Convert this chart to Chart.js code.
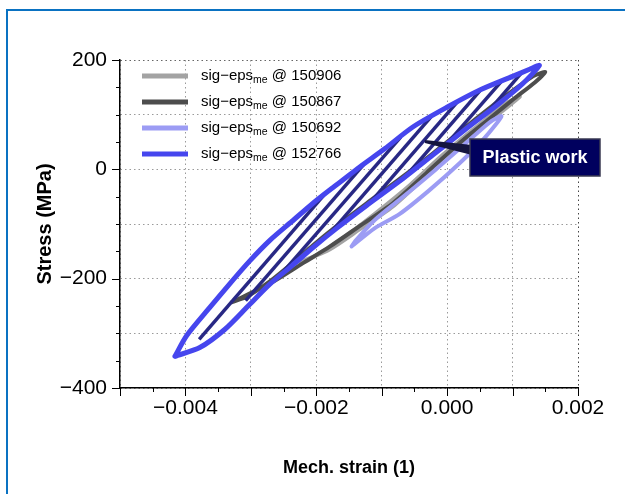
<!DOCTYPE html>
<html>
<head>
<meta charset="utf-8">
<script src="https://cdn.jsdelivr.net/npm/chart.js@4.4.1/dist/chart.umd.min.js"></script>
<style>
  html, body { margin: 0; padding: 0; background: #fff; }
</style>
</head>
<body>
<canvas id="myChart" width="625" height="494"></canvas>
<script>
var myChart = null;

// series (label ids in legend order)
const serieIds = ['150906', '150867', '150692', '152766'];
const serieColores = ['#a3a3a3', '#4d4d4d', '#9c9cf4', '#4646ee'];

// 150906 (light gray) loop: strain (1), stress (MPa)
const strain150906 = [-0.00225, -0.00179, -0.00134, -0.00083, -0.00031, 0.00019, 0.00065, 0.00111,
                      0.00088, 0.00042, -0.00007, -0.00057, -0.00108, -0.00156, -0.00202, -0.00225];
const stress150906 = [-170, -146, -110, -68, -11, 42, 88, 133,
                      119, 75, 26, -29, -79, -123, -159, -170];

// 150867 (dark gray) loop
const strain150867 = [-0.00329, -0.00271, -0.00221, -0.00179, -0.00134, -0.00083, -0.00031, 0.00019, 0.00065, 0.00103, 0.00134, 0.00150,
                      0.00131, 0.00080, 0.00030, -0.00022, -0.00073, -0.00123, -0.00169, -0.00205, -0.00237, -0.00271, -0.00305, -0.00329];
const stress150867 = [-243, -209, -172, -141, -104, -62, -6, 48, 93, 130, 159, 178,
                      170, 126, 79, 29, -18, -62, -104, -139, -172, -205, -232, -243];

// 150692 (light blue) loop
const strain150692 = [-0.00146, -0.00111, -0.00073, -0.00027, 0.00019, 0.00057, 0.00083,
                      0.00065, 0.00027, -0.00019, -0.00065, -0.00111, -0.00141, -0.00146];
const stress150692 = [-141, -108, -82, -38, 11, 57, 97,
                      86, 46, -2, -48, -93, -132, -141];

// 152766 (blue) loop
const strain152766 = [-0.00416, -0.00378, -0.00340, -0.00305, -0.00271, -0.00237, -0.00205, -0.00169, -0.00123, -0.00073, -0.00022, 0.00030, 0.00080, 0.00115, 0.00141,
                      0.00126, 0.00100, 0.00050, -0.00001, -0.00053, -0.00095, -0.00134, -0.00172, -0.00205, -0.00237, -0.00271, -0.00302, -0.00332, -0.00363, -0.00398, -0.00416];
const stress152766 = [-342, -326, -293, -251, -210, -176, -143, -108, -66, -22, 26, 75, 121, 156, 190,
                      183, 170, 145, 113, 77, 38, 4, -31, -62, -95, -130, -168, -209, -253, -304, -342];

// plastic work hatch lines (start / end of each stroke)
const hatchStrainIni = [-0.00379, -0.00308, -0.00251, -0.00179, -0.00120, -0.00065, -0.00001, 0.00060];
const hatchStressIni = [-311, -240, -188, -117, -64, -15, 46, 102];
const hatchStrainFin = [-0.00186, -0.00126, -0.00071, -0.00024, 0.00016, 0.00051, 0.00083, 0.00114];
const hatchStressFin = [-44, 11, 59, 97, 124, 145, 161, 177];

// axis labels
const etiquetasX = [-0.004, -0.002, 0.000, 0.002];
const etiquetasY = [200, 0, -200, -400];

// callout tip (strain, stress)
const flechaPlastic = [-0.00034, 51];

Chart.defaults.font.family = "'Liberation Sans', Arial, sans-serif";
Chart.defaults.color = '#000';

function puntos(xs, ys) {
	return xs.map(function (x, i) { return { x: x, y: ys[i] }; });
}

function lazo(idx, xs, ys, ancho, orden) {
	return {
		label: 'sig-eps @ ' + serieIds[idx],
		data: puntos(xs, ys),
		showLine: true,
		borderColor: serieColores[idx],
		borderWidth: ancho,
		pointRadius: 0,
		tension: 0.25,
		fill: false,
		order: orden,
		borderCapStyle: 'round',
		borderJoinStyle: 'round'
	};
}

function formato(v, dec) {
	let s = Math.abs(v).toFixed(dec);
	return (v < -1e-12 ? '\u2212' : '') + s;
}

const datasets = [
	lazo(0, strain150906, stress150906, 4, 5),
	lazo(1, strain150867, stress150867, 4, 4),
	lazo(2, strain150692, stress150692, 4, 3),
	lazo(3, strain152766, stress152766, 5, 0)
];

for (let i = 0; i < hatchStrainIni.length; i++) {
	datasets.push({
		label: 'hatch' + i,
		data: [{ x: hatchStrainIni[i], y: hatchStressIni[i] }, { x: hatchStrainFin[i], y: hatchStressFin[i] }],
		showLine: true,
		borderColor: '#282884',
		borderWidth: 3.5,
		pointRadius: 0,
		order: 1
	});
}

const fondoPlugin = {
	id: 'fondo',
	beforeDraw(chart) {
		const ctx = chart.ctx;
		ctx.save();
		ctx.fillStyle = '#fff';
		ctx.fillRect(0, 0, chart.width, chart.height);
		ctx.fillStyle = '#0a72c2';
		ctx.fillRect(6, 9, 2, chart.height - 9);
		ctx.fillRect(6, 9, chart.width - 6, 2);
		ctx.restore();
	}
};

const marcasPlugin = {
	id: 'marcas',
	afterDraw(chart) {
		const ctx = chart.ctx;
		const a = chart.chartArea;
		const xs = chart.scales.x, ys = chart.scales.y;
		ctx.save();
		ctx.strokeStyle = '#000';
		ctx.lineWidth = 1;
		ctx.beginPath();
		for (let k = -8; k <= 4; k++) {
			const py = Math.round(ys.getPixelForValue(k * 50)) + 0.5;
			const len = (k % 4 === 0) ? 8 : 4;
			ctx.moveTo(a.left - len, py);
			ctx.lineTo(a.left, py);
		}
		for (let k = -10; k <= 4; k++) {
			const px = Math.round(xs.getPixelForValue(k * 0.0005)) + 0.5;
			const len = (k % 2 === 0) ? 8 : 4;
			ctx.moveTo(px, a.bottom);
			ctx.lineTo(px, a.bottom + len);
		}
		ctx.stroke();
		ctx.restore();
	}
};

const leyendaPlugin = {
	id: 'leyenda',
	afterDatasetsDraw(chart) {
		const ctx = chart.ctx;
		const a = chart.chartArea;
		ctx.save();
		for (let i = 0; i < serieIds.length; i++) {
			const y = a.top + 16 + i * 26;
			ctx.strokeStyle = serieColores[i];
			ctx.lineWidth = 5;
			ctx.lineCap = 'butt';
			ctx.beginPath();
			ctx.moveTo(a.left + 22, y);
			ctx.lineTo(a.left + 68, y);
			ctx.stroke();

			let x = a.left + 81;
			ctx.fillStyle = '#000';
			ctx.textBaseline = 'middle';
			ctx.font = "15px 'Liberation Sans', Arial, sans-serif";
			ctx.fillText('sig\u2212eps', x, y);
			x += ctx.measureText('sig\u2212eps').width;
			ctx.font = "10.5px 'Liberation Sans', Arial, sans-serif";
			ctx.fillText('me', x, y + 4);
			x += ctx.measureText('me').width;
			ctx.font = "15px 'Liberation Sans', Arial, sans-serif";
			ctx.fillText(' @ ' + serieIds[i], x, y);
		}
		ctx.restore();
	}
};

const plasticPlugin = {
	id: 'plastic',
	afterDraw(chart) {
		const ctx = chart.ctx;
		const a = chart.chartArea;
		const tx = chart.scales.x.getPixelForValue(flechaPlastic[0]);
		const ty = chart.scales.y.getPixelForValue(flechaPlastic[1]);
		const bx = a.right - 108, by = a.top + 79, bw = 130, bh = 37;
		ctx.save();
		ctx.fillStyle = '#15153f';
		ctx.beginPath();
		ctx.moveTo(tx, ty - 1.5);
		ctx.lineTo(bx + 2, by + 6);
		ctx.lineTo(bx + 2, by + 16);
		ctx.lineTo(tx, ty + 1.5);
		ctx.closePath();
		ctx.fill();
		ctx.fillStyle = '#00005e';
		ctx.fillRect(bx, by, bw, bh);
		ctx.strokeStyle = '#3a3a52';
		ctx.lineWidth = 1.5;
		ctx.strokeRect(bx, by, bw, bh);
		ctx.fillStyle = '#fff';
		ctx.font = "bold 18px 'Liberation Sans', Arial, sans-serif";
		ctx.textAlign = 'center';
		ctx.textBaseline = 'middle';
		ctx.fillText('Plastic work', bx + bw / 2, by + bh / 2 + 1);
		ctx.restore();
	}
};

function crearGrafico() {
	if (myChart != null)
		myChart.destroy();

	let canva = document.getElementById('myChart').getContext('2d');

	myChart = new Chart(canva, {
		type: 'scatter',
		data: { datasets: datasets },
		options: {
			responsive: false,
			animation: false,
			events: [],
			layout: { padding: { left: 0, right: 47, top: 60, bottom: 0 } },
			plugins: { legend: { display: false }, tooltip: { enabled: false } },
			scales: {
				x: {
					type: 'linear',
					min: -0.005,
					max: 0.002,
					afterFit: function (s) { s.height = 106; },
					ticks: {
						stepSize: 0.001,
						autoSkip: false,
						maxRotation: 0,
						padding: 8,
						font: { size: 21 },
						callback: function (v) {
							const r = Math.round(v * 1000) / 1000;
							return etiquetasX.some(function (e) { return Math.abs(e - r) < 1e-9; }) ? formato(r, 3) : '';
						}
					},
					grid: {
						drawTicks: false,
						lineWidth: 1,
						color: function (c) { return (c.tick && Math.abs(c.tick.value - 0.002) < 1e-9) ? '#444' : '#9a9a9a'; }
					},
					border: { display: true, color: '#000', width: 1.5, dash: [1.5, 3] },
					title: {
						display: true,
						text: 'Mech. strain (1)',
						font: { size: 18, weight: 'bold' },
						padding: { top: 0, bottom: 15 }
					}
				},
				y: {
					type: 'linear',
					min: -400,
					max: 200,
					afterFit: function (s) { s.width = 120; },
					ticks: {
						stepSize: 100,
						autoSkip: false,
						padding: 13,
						font: { size: 21 },
						callback: function (v) {
							return etiquetasY.indexOf(Math.round(v)) >= 0 ? formato(v, 0) : '';
						}
					},
					grid: {
						drawTicks: false,
						lineWidth: 1,
						color: function (c) { return (c.tick && c.tick.value === 200) ? '#666' : '#9a9a9a'; }
					},
					border: { display: true, color: '#000', width: 1.5, dash: [1.5, 3] },
					title: {
						display: true,
						text: 'Stress (MPa)',
						font: { size: 20, weight: 'bold' },
						padding: { top: 33, bottom: 0 }
					}
				}
			}
		},
		plugins: [fondoPlugin, marcasPlugin, leyendaPlugin, plasticPlugin]
	});
}

crearGrafico();
</script>
</body>
</html>
